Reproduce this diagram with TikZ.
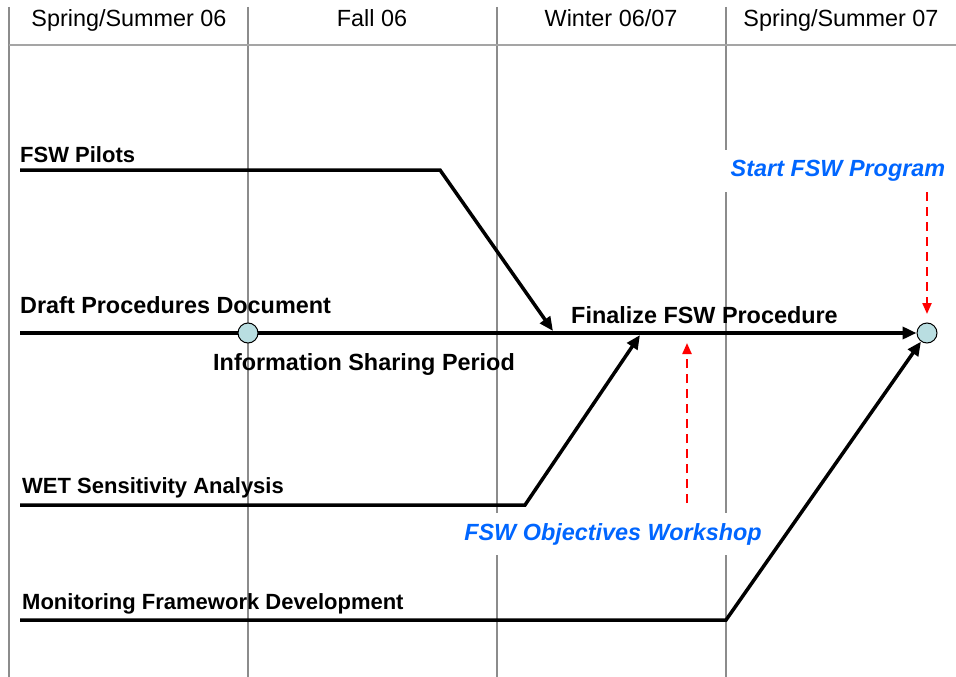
\documentclass[tikz,border=0pt]{standalone}
\usepackage{fontspec}
\setmainfont{Liberation Sans}
\usetikzlibrary{arrows.meta}
\definecolor{gridgray}{RGB}{140,140,140}
\definecolor{rulegray}{RGB}{165,165,165}
\definecolor{labelblue}{RGB}{0,102,255}
\definecolor{dotfill}{RGB}{185,222,225}
\pgfdeclarelayer{bg}
\pgfdeclarelayer{mid}
\pgfsetlayers{bg,mid,main}

\begin{document}
\begin{tikzpicture}[x=1pt,y=-1pt,
  hdr/.style={font=\fontsize{23.4}{28}\selectfont, anchor=base, inner sep=0pt},
  task/.style={font=\fontsize{23.4}{28}\selectfont\bfseries, anchor=base west, inner sep=0pt},
  smalltask/.style={task, font=\fontsize{22}{26}\selectfont\bfseries},
  event/.style={font=\fontsize{23.4}{28}\selectfont\bfseries\itshape, text=labelblue,
                fill=white, inner xsep=6pt, inner ysep=0pt, minimum height=42pt},
  gridline/.style={draw=gridgray, line width=1.3pt},
  headrule/.style={draw=rulegray, line width=2.6pt},
  bar/.style={draw=black, line width=3.5pt, line cap=butt, line join=miter},
  flow/.style={bar, -{Triangle[length=14pt,width=12pt]}},
  cue/.style={draw=red, line width=2.2pt, dash pattern=on 9pt off 6pt,
              -{Triangle[length=11pt,width=9pt]}},
  dot/.style={circle, draw=black, line width=1pt, fill=dotfill, minimum size=20pt, inner sep=0pt}
]
\useasboundingbox (0,0) rectangle (956,677);

% season columns
\begin{pgfonlayer}{bg}
  \foreach \gx in {9,248,497,726}
    \draw[gridline] (\gx,7) -- (\gx,677);
  \draw[headrule] (9,45) -- (956,45);
\end{pgfonlayer}

\node[hdr] (h1) at (129,27) {Spring/Summer 06};
\node[hdr] (h2) at (372,27) {Fall 06};
\node[hdr] (h3) at (611,27) {Winter 06/07};
\node[hdr] (h4) at (841,27) {Spring/Summer 07};

% milestone call-outs (white boxes break the column lines)
\node[event] (start) at (838,171) {Start FSW Program};
\node[event] (workshop) at (613,534) {FSW Objectives Workshop};

% task labels
\node[smalltask] (pilots) at (20,162) {FSW Pilots};
\node[task] (draft) at (20,313) {Draft Procedures Document};
\node[task] (share) at (213,370) {Information Sharing Period};
\node[task] (final) at (571,323) {Finalize FSW Procedure};
\node[smalltask] (wet) at (22,493) {WET Sensitivity Analysis};
\node[smalltask] (mon) at (22,609) {Monitoring Framework Development};

% milestones
\node[dot] (c1) at (248,333) {};
\node[dot] (c2) at (927,333) {};

% flow lines
\coordinate (pilotsA) at (20,170);
\coordinate (pilotsB) at (440,170);
\coordinate (pilotsEnd) at (553,331);
\coordinate (draftA) at (20,333);
\coordinate (wetA) at (20,505);
\coordinate (wetB) at (525,505);
\coordinate (wetEnd) at (640,335);
\coordinate (monA) at (20,620);
\coordinate (monB) at (726,620);
\coordinate (cueLowA) at (687,503);
\coordinate (cueLowB) at (687,343);
\coordinate (cueTopA) at (927,192);
\coordinate (cueTopB) at (927,314);

\begin{pgfonlayer}{mid}
  \draw[flow] (pilotsA) -- (pilotsB) -- (pilotsEnd);
  \draw[flow] (draftA) -- (c2);
  \draw[flow] (wetA) -- (wetB) -- (wetEnd);
  \draw[flow] (monA) -- (monB) -- (c2);
  \draw[cue] (cueLowA) -- (cueLowB);
  \draw[cue] (cueTopA) -- (cueTopB);
\end{pgfonlayer}
\end{tikzpicture}
\end{document}
